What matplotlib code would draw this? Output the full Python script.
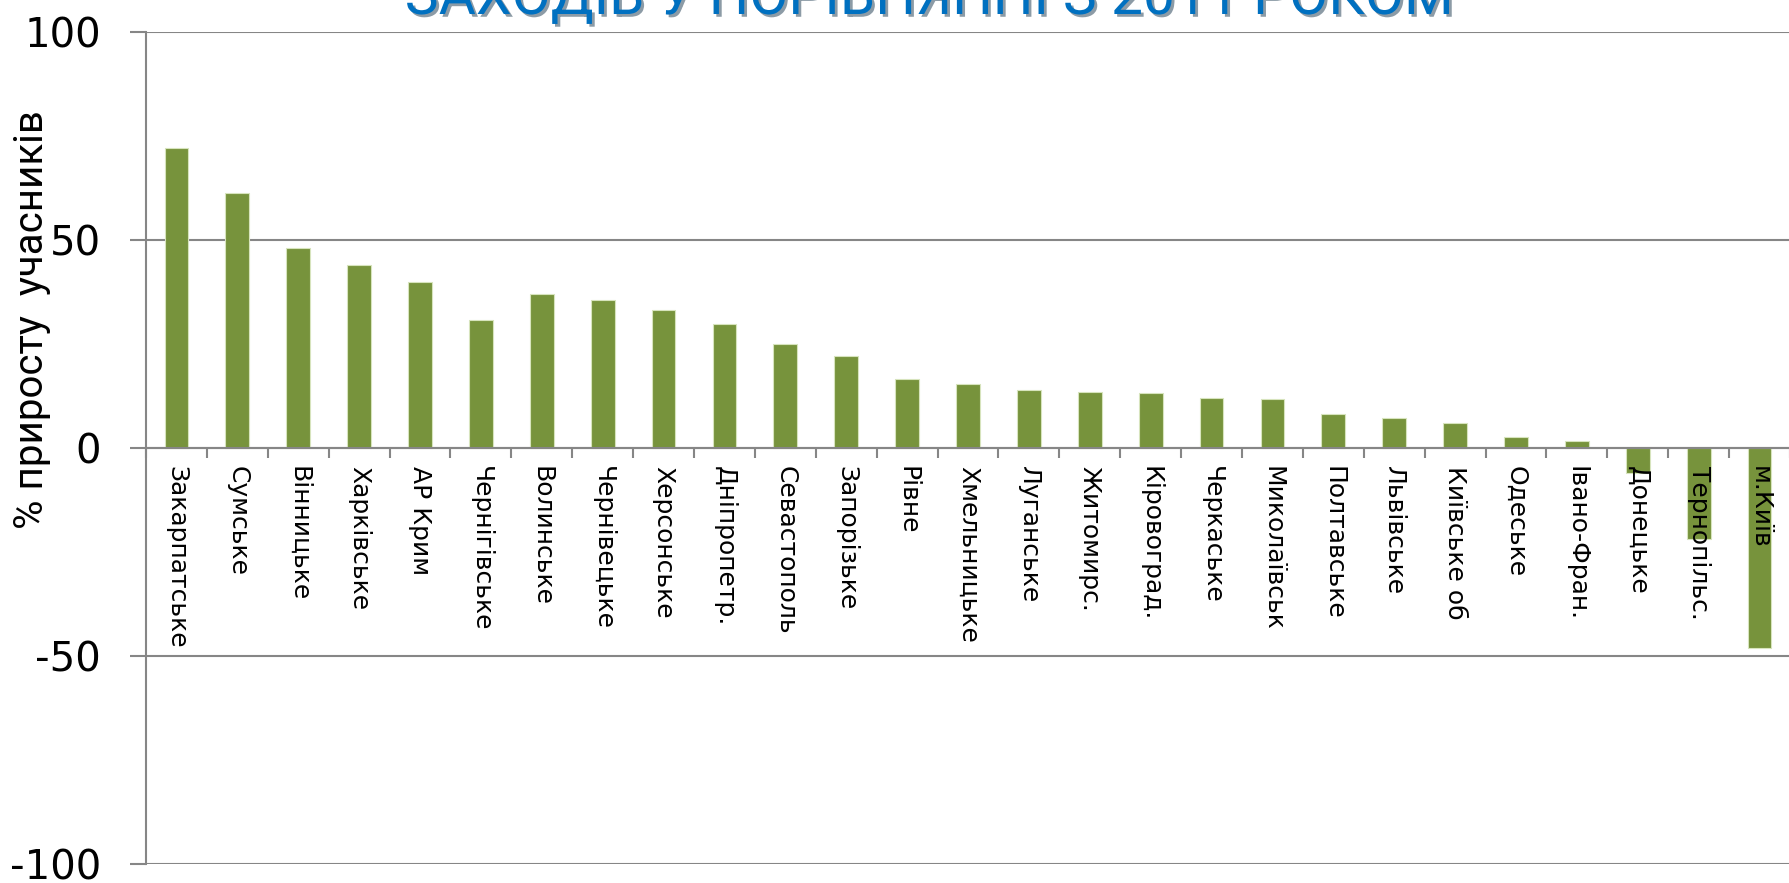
import matplotlib
matplotlib.use("Agg")
import matplotlib.pyplot as plt
import matplotlib.patheffects as pe
from matplotlib.ticker import FixedLocator
import numpy as np

regions = ["Закарпатське", "Сумське", "Вінницьке", "Харківське", "АР Крим",
           "Чернігівське", "Волинське", "Чернівецьке", "Херсонське", "Дніпропетр.",
           "Севастополь", "Запорізьке", "Рівне", "Хмельницьке", "Луганське",
           "Житомирс.", "Кіровоград.", "Черкаське", "Миколаївськ", "Полтавське",
           "Львівське", "Київське об", "Одеське", "Івано-Фран.", "Донецьке",
           "Тернопільс.", "м.Київ"]
growth = [72.1, 61.3, 48.0, 44.0, 40.0, 30.8, 36.9, 35.6, 33.2, 29.9,
          24.9, 22.2, 16.7, 15.4, 14.0, 13.5, 13.2, 12.0, 11.7, 8.2,
          7.1, 5.9, 2.6, 1.8, -6.1, -21.9, -48.0]
yticks = [-100, -50, 0, 50, 100]
ytick_labels = ["-100", "-50", "0", "50", "100"]
title_text = "ЗАХОДІВ У ПОРІВНЯННІ З 2011 РОКОМ"
ylabel_text = "% приросту  учасників"

narrow = ["Roboto", "DejaVu Sans"]
grid_c = "#868686"

fig = plt.figure(figsize=(17.9, 8.83), dpi=100)
ax = fig.add_axes([146 / 1790, 19 / 883, 1644 / 1790, 832 / 883])

for s in ["top", "right"]:
    ax.spines[s].set_visible(False)
ax.spines["bottom"].set_position(("data", 0))
ax.spines["bottom"].set_color(grid_c)
ax.spines["bottom"].set_linewidth(1.5)
ax.spines["bottom"].set_zorder(4)
ax.spines["left"].set_color(grid_c)
ax.spines["left"].set_linewidth(1.5)

x = np.arange(len(regions))
ax.bar(x, growth, width=0.39, color="#77933C", edgecolor="#D7E4BD",
       linewidth=0.8, zorder=3)

ax.set_xlim(-0.5, len(regions) - 0.5)
ax.set_ylim(-100, 100)

ax.set_yticks(yticks)
ax.set_yticklabels(ytick_labels, fontsize=29, family="DejaVu Sans")
ax.yaxis.grid(True, color=grid_c, linewidth=1.5)
ax.set_axisbelow(True)
ax.tick_params(axis="y", direction="out", length=11.5, width=1.5,
               color=grid_c, pad=21)

ax.xaxis.set_minor_locator(FixedLocator(np.arange(len(regions) + 1) - 0.5))
ax.tick_params(axis="x", which="major", length=0, pad=13)
ax.tick_params(axis="x", which="minor", direction="out", length=7,
               width=1.5, color=grid_c)
ax.set_xticks(x)
ax.set_xticklabels(regions, rotation=270, fontsize=18,
                   family="DejaVu Sans", va="top", ha="center")
ax.xaxis.set_zorder(5)

fig.text(32 / 1790, 1 - 320 / 883, ylabel_text, rotation=90,
         fontsize=29, family=narrow, ha="center", va="center")

fig.text(930 / 1790, 1 - 14 / 883, title_text, fontsize=41,
         family=narrow, color="#0070C0", ha="center", va="baseline",
         path_effects=[pe.SimplePatchShadow(offset=(2, -2), alpha=0.45),
                       pe.Normal()])

fig.savefig("out.png", dpi=100)
